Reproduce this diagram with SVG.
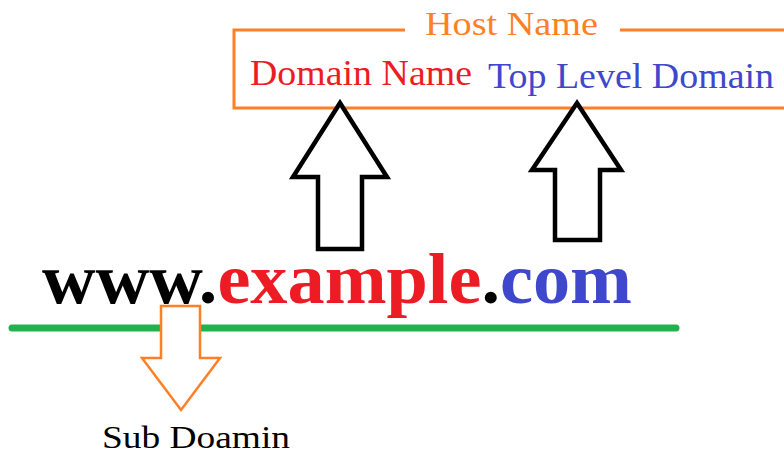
<svg xmlns="http://www.w3.org/2000/svg" width="784" height="456" viewBox="0 0 784 456">
<style>
.serif{font-family:"Liberation Serif","Times New Roman",serif;}
.orange{fill:#ff7f27;}
.red{fill:#ed1c24;}
.blue{fill:#3f48cc;}
.blk{fill:#000;}
.up{fill:#fff;stroke:#000;stroke-width:4.5;stroke-linejoin:miter;}
.down{fill:#fff;stroke:#ff7f27;stroke-width:2.5;}
</style>
<rect width="784" height="456" fill="#fff"/>
<g id="host-name">
<path d="M405,30 H234 V108 H790 M620,30 H790" fill="none" stroke="#ff7f27" stroke-width="3"/>
<text class="serif orange" x="425" y="35" font-size="34" textLength="173" lengthAdjust="spacingAndGlyphs">Host Name</text>
<text class="serif red" x="250" y="85" font-size="35" textLength="222" lengthAdjust="spacingAndGlyphs">Domain Name</text>
<text class="serif blue" x="488" y="88" font-size="35" textLength="286" lengthAdjust="spacingAndGlyphs">Top Level Domain</text>
</g>
<g id="url">
<text class="serif" x="42" y="303" font-size="71" font-weight="bold" textLength="590" lengthAdjust="spacingAndGlyphs"><tspan class="blk">www.</tspan><tspan class="red">example</tspan><tspan class="blk">.</tspan><tspan class="blue">com</tspan></text>
</g>
<g id="sub-domain">
<text class="serif blk" x="102" y="448" font-size="32" textLength="188" lengthAdjust="spacingAndGlyphs">Sub Doamin</text>
</g>
<g id="connectors">
<line x1="12" y1="328" x2="676" y2="328" stroke="#22b14c" stroke-width="7" stroke-linecap="round"/>
<polygon class="up" points="340,103 387,177 362,177 362,249 318,249 318,177 293,177"/>
<polygon class="up" points="577,103 621,170 600,170 600,240 555,240 555,170 532,170"/>
<polygon class="down" points="161,306 200,306 200,358 220,358 181,410 142,358 161,358"/>
</g>
</svg>
